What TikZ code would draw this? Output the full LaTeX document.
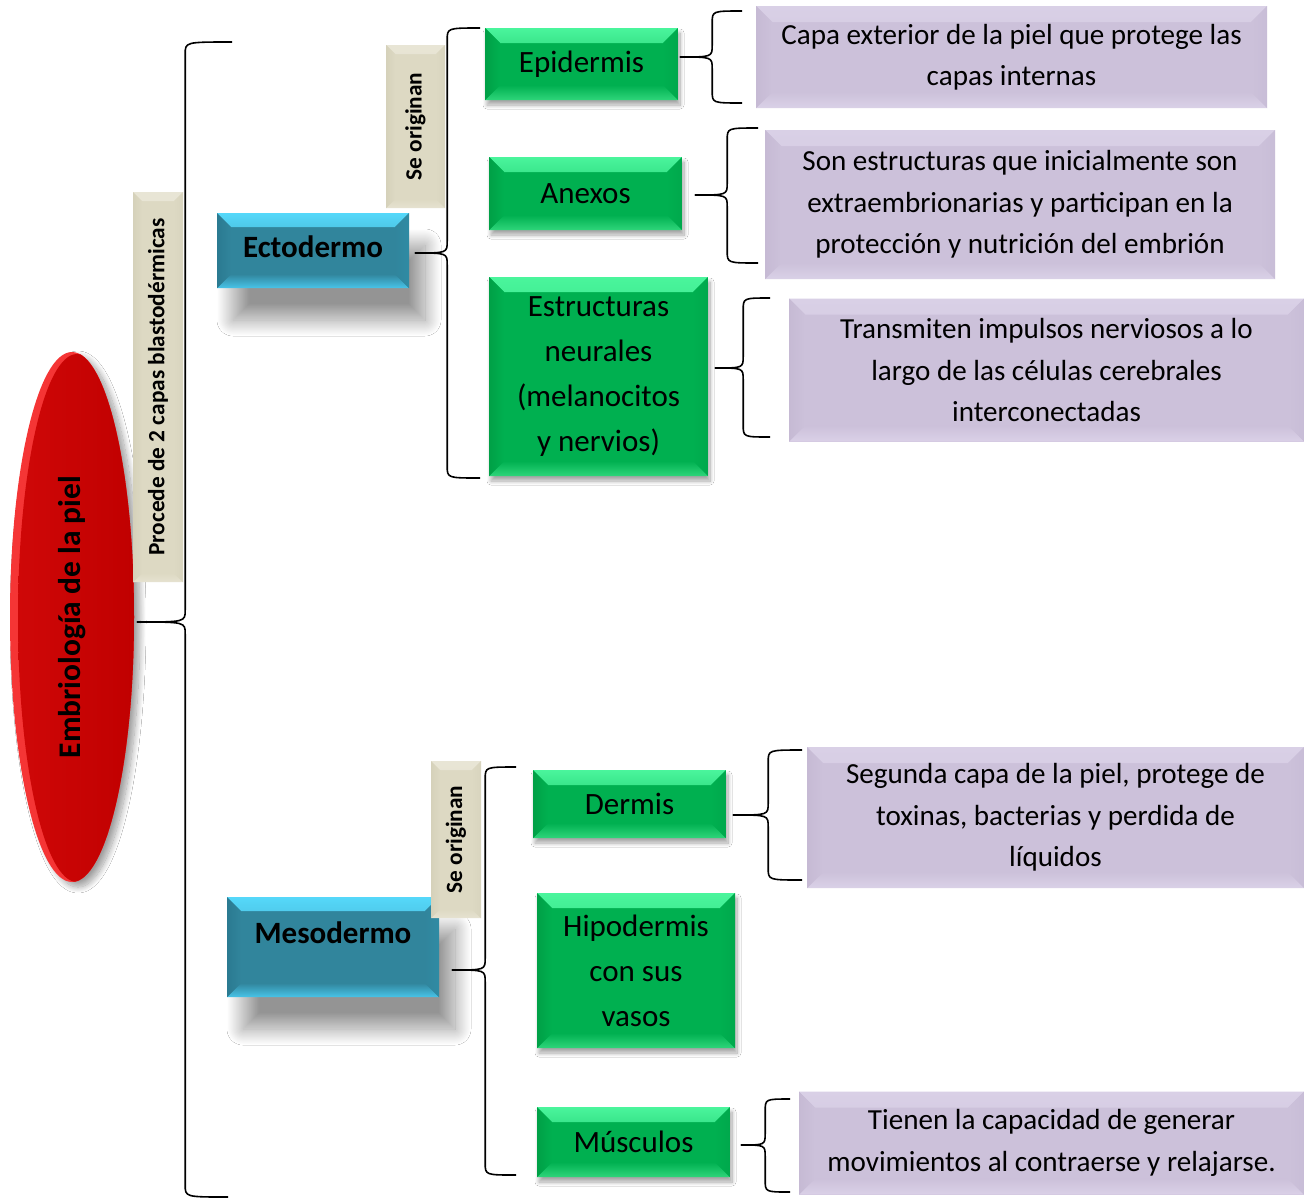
\documentclass[tikz,border=0pt]{standalone}
\usepackage{fontspec}
\setmainfont{Carlito}
\usetikzlibrary{calc,shapes.geometric,shadows.blur}

% palette
\definecolor{blueC}{HTML}{31859C}
\definecolor{blueT}{HTML}{55D8FA}
\definecolor{blueB}{HTML}{48C4E8}
\definecolor{blueL}{HTML}{2A7A91}
\definecolor{blueR}{HTML}{2F8BA4}
\definecolor{greenC}{HTML}{00B050}
\definecolor{greenT}{HTML}{4AF59C}
\definecolor{greenB}{HTML}{2ED57A}
\definecolor{greenL}{HTML}{00A046}
\definecolor{greenR}{HTML}{00A84C}
\definecolor{lilaC}{HTML}{CCC1DA}
\definecolor{lilaT}{HTML}{D9D0E6}
\definecolor{lilaB}{HTML}{DAD1E7}
\definecolor{lilaL}{HTML}{C6BAD4}
\definecolor{lilaR}{HTML}{C8BDD7}
\definecolor{sandC}{HTML}{DDD9C3}
\definecolor{sandT}{HTML}{E8E5D5}
\definecolor{sandB}{HTML}{E6E2D0}
\definecolor{sandL}{HTML}{D5D1BA}
\definecolor{sandR}{HTML}{D8D4BE}
\definecolor{redRim}{HTML}{F53535}
\definecolor{redC}{HTML}{D00808}
\definecolor{redD}{HTML}{C00000}

\tikzset{
  % box with four graded bevel bands: fill, top, bottom, left, right, band width
  bevel/.style n args={6}{fill=#1, path picture={
    \path[top color=#2, bottom color=#1] (path picture bounding box.north west) -- (path picture bounding box.north east)
      -- ([shift={(-#6,-#6)}]path picture bounding box.north east)
      -- ([shift={(#6,-#6)}]path picture bounding box.north west) -- cycle;
    \path[top color=#1, bottom color=#3] (path picture bounding box.south west) -- (path picture bounding box.south east)
      -- ([shift={(-#6,#6)}]path picture bounding box.south east)
      -- ([shift={(#6,#6)}]path picture bounding box.south west) -- cycle;
    \path[left color=#4, right color=#1] (path picture bounding box.north west) -- (path picture bounding box.south west)
      -- ([shift={(#6,#6)}]path picture bounding box.south west)
      -- ([shift={(#6,-#6)}]path picture bounding box.north west) -- cycle;
    \path[left color=#1, right color=#5] (path picture bounding box.north east) -- (path picture bounding box.south east)
      -- ([shift={(-#6,#6)}]path picture bounding box.south east)
      -- ([shift={(-#6,-#6)}]path picture bounding box.north east) -- cycle;
  }},
  boxbase/.style={rectangle, inner sep=0pt, align=center, text=black},
  bluebox/.style={boxbase, bevel={blueC}{blueT}{blueB}{blueL}{blueR}{14pt},
    font=\fontsize{31}{40}\selectfont\bfseries,
    blur shadow={shadow xshift=16pt, shadow yshift=-32pt, shadow blur radius=16pt,
      shadow blur steps=40, shadow opacity=42}},
  greenbox/.style={boxbase, bevel={greenC}{greenT}{greenB}{greenL}{greenR}{15pt},
    font=\fontsize{31}{45}\selectfont,
    blur shadow={shadow xshift=2pt, shadow yshift=-5pt, shadow blur radius=4pt,
      shadow blur steps=12, shadow opacity=35}},
  lilabox/.style={boxbase, bevel={lilaC}{lilaT}{lilaB}{lilaL}{lilaR}{16pt},
    font=\fontsize{29.1}{41.5}\selectfont},
  sandbox/.style={boxbase, bevel={sandC}{sandT}{sandB}{sandL}{sandR}{9pt},
    font=\fontsize{23.3}{28}\selectfont\bfseries},
  % red ellipse with a glossy rim along its left edge
  rootnode/.style={ellipse, inner sep=0pt, minimum width=124pt, minimum height=530pt,
    fill=redRim, path picture={
      \fill[left color=redC, right color=redD]
        ([xshift=5pt,yshift=-1pt]path picture bounding box.center) ellipse [x radius=59pt, y radius=264pt];
    },
    font=\fontsize{31.5}{38}\selectfont\bfseries,
    blur shadow={shadow xshift=6pt, shadow yshift=-5pt, shadow blur radius=6pt,
      shadow blur steps=15, shadow opacity=38}},
  bracepath/.style={draw=black, line width=1.6pt, line join=round}
}

% left curly brace: #1 tip, #2 upper end, #3 lower end, #4 spine offset from tip
\newcommand\curlybrace[4]{%
  \draw[bracepath] let \p1=(#1), \p2=(#2), \p3=(#3), \p4=($(#1)+(#4,0)$) in
    (\p2) .. controls (\x4,\y2) .. (\x4,\y2-12pt)
    -- (\x4,\y1+12pt) .. controls (\x4,\y1) .. (\p1)
    .. controls (\x4,\y1) .. (\x4,\y1-12pt)
    -- (\x4,\y3+12pt) .. controls (\x4,\y3) .. (\p3);
}

\begin{document}
\begin{tikzpicture}[x=1pt,y=-1pt]
\useasboundingbox (0,0) rectangle (1305,1200);
\fill[white] (0,0) rectangle (1305,1200);

% root and its two germ layers
\node[rootnode] (root) at (72,617) {\rotatebox{90}{Embriología de la piel}};
\node[sandbox, minimum width=50pt, minimum height=390pt] (procede) at (158,387)
  {\rotatebox{90}{Procede de 2 capas blastodérmicas}};

\node[bluebox, minimum width=192pt, minimum height=75pt, text height=20pt, text depth=7pt]
  (ecto) at (313,250.5) {Ectodermo};
\node[bluebox, minimum width=212pt, minimum height=100pt, text height=20pt, text depth=28pt]
  (meso) at (333,947) {Mesodermo};

\node[sandbox, minimum width=59pt, minimum height=163pt] (orig1) at (415.5,126.5)
  {\rotatebox{90}{Se originan}};
\node[sandbox, minimum width=50pt, minimum height=157pt] (orig2) at (456,839.5)
  {\rotatebox{90}{Se originan}};

% ectoderm derivatives
\node[greenbox, minimum width=193pt, minimum height=72pt] (epi) at (581.5,64) {Epidermis};
\node[greenbox, minimum width=193pt, minimum height=73pt] (anex) at (585.5,193.5) {Anexos};
\node[greenbox, minimum width=219pt, minimum height=199pt] (neur) at (598.5,376.5)
  {Estructuras\\neurales\\(melanocitos\\y nervios)};

% mesoderm derivatives
\node[greenbox, minimum width=193pt, minimum height=68pt] (derm) at (629.5,804) {Dermis};
\node[greenbox, minimum width=198pt, minimum height=155pt] (hipo) at (636,970.5)
  {Hipodermis\\con sus\\vasos};
\node[greenbox, minimum width=193pt, minimum height=70pt] (musc) at (633.5,1142) {Músculos};

% descriptions
\node[lilabox, minimum width=511pt, minimum height=102pt] (d1) at (1011.5,57)
  {Capa exterior de la piel que protege las\\capas internas};
\node[lilabox, minimum width=510pt, minimum height=149pt] (d2) at (1020,204.5)
  {Son estructuras que inicialmente son\\extraembrionarias y participan en la\\protección y nutrición del embrión};
\node[lilabox, minimum width=515pt, minimum height=143pt] (d3) at (1046.5,370)
  {Transmiten impulsos nerviosos a lo\\largo de las células cerebrales\\interconectadas};
\node[lilabox, minimum width=497pt, minimum height=141pt] (d4) at (1055.5,817.5)
  {Segunda capa de la piel, protege de\\toxinas, bacterias y perdida de\\líquidos};
\node[lilabox, minimum width=505pt, minimum height=103pt] (d5) at (1051.5,1143)
  {Tienen la capacidad de generar\\movimientos al contraerse y relajarse.};

% brace end points
\coordinate (rootTip) at ($(root.east)+(3,5)$);
\coordinate (rootTop) at (232,42);
\coordinate (rootBot) at (228,1197);
\coordinate (ectoTip) at ($(ecto.east)+(6,2.5)$);
\coordinate (ectoTop) at (480,28);
\coordinate (ectoBot) at (480,478);
\coordinate (mesoTip) at ($(meso.east)+(13,23)$);
\coordinate (mesoTop) at (516,767);
\coordinate (mesoBot) at (516,1175);
\coordinate (epiTip) at ($(epi.east)+(2,-7)$);
\coordinate (epiTop) at (742,11);
\coordinate (epiBot) at (742,103);
\coordinate (anexTip) at ($(anex.east)+(13,1.5)$);
\coordinate (anexTop) at (758,128);
\coordinate (anexBot) at (758,263);
\coordinate (neurTip) at ($(neur.east)+(7,-8.5)$);
\coordinate (neurTop) at (770,298);
\coordinate (neurBot) at (770,437);
\coordinate (dermTip) at ($(derm.east)+(7,11)$);
\coordinate (dermTop) at (802,750);
\coordinate (dermBot) at (802,880);
\coordinate (muscTip) at ($(musc.east)+(11,3)$);
\coordinate (muscTop) at (790,1099);
\coordinate (muscBot) at (790,1192);

\curlybrace{rootTip}{rootTop}{rootBot}{48}
\curlybrace{ectoTip}{ectoTop}{ectoBot}{32}
\curlybrace{mesoTip}{mesoTop}{mesoBot}{33}
\curlybrace{epiTip}{epiTop}{epiBot}{32}
\curlybrace{anexTip}{anexTop}{anexBot}{32}
\curlybrace{neurTip}{neurTop}{neurBot}{28}
\curlybrace{dermTip}{dermTop}{dermBot}{35}
\curlybrace{muscTip}{muscTop}{muscBot}{24}
\end{tikzpicture}
\end{document}
